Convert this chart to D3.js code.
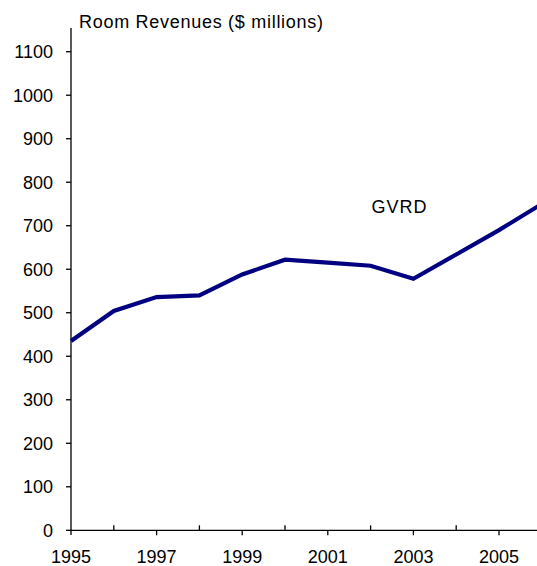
<!DOCTYPE html>
<html>
<head>
<meta charset="utf-8">
<script src="https://cdn.jsdelivr.net/npm/d3@7"></script>
<style>
html,body{margin:0;padding:0;background:#fff;}
svg{display:block;}
text{font-family:"Liberation Sans",Arial,sans-serif;fill:#000;}
</style>
</head>
<body>
<script>
const years = [1995,1996,1997,1998,1999,2000,2001,2002,2003,2004,2005,2006];
const revenues = [435,504,536,540,588,622,615,608,578,634,690,750];
const yTicks = [0,100,200,300,400,500,600,700,800,900,1000,1100];
const xLabelYears = [1995,1997,1999,2001,2003,2005];
const seriesName = "GVRD";
const yTitle = "Room Revenues ($ millions)";

const W = 537, H = 566;
const svg = d3.select("body").append("svg").attr("width", W).attr("height", H);

const x = d3.scaleLinear().domain([1995, 2006]).range([71, 541.8]);
const y = d3.scaleLinear().domain([0, 1100]).range([530.3, 51.7]);

const fs = 18;

// y axis
const ya = svg.append("g").attr("transform", "translate(71,0)");
ya.append("line").attr("x1",0).attr("x2",0).attr("y1",28).attr("y2",535).attr("stroke","#000").attr("stroke-width",1.3);
ya.selectAll("line.t").data(yTicks).enter().append("line").attr("class","t")
  .attr("x1",-5).attr("x2",0).attr("y1",d=>y(d)).attr("y2",d=>y(d)).attr("stroke","#000").attr("stroke-width",1.3);
ya.selectAll("text").data(yTicks).enter().append("text")
  .attr("x",-18).attr("y",d=>y(d)).attr("dy","0.35em").attr("text-anchor","end")
  .style("font-size",fs+"px").text(d=>d);

// x axis
const xa = svg.append("g");
xa.append("line").attr("x1",71).attr("x2",W).attr("y1",y(0)).attr("y2",y(0)).attr("stroke","#000").attr("stroke-width",1.3);
xa.selectAll("line.t").data(years.slice(1,11)).enter().append("line").attr("class","t")
  .attr("x1",d=>x(d)).attr("x2",d=>x(d))
  .attr("y1",d=> (d%2===1) ? y(0) : y(0)-5)
  .attr("y2",d=> (d%2===1) ? y(0)+5 : y(0))
  .attr("stroke","#000").attr("stroke-width",1.3);
xa.selectAll("text").data(xLabelYears).enter().append("text")
  .attr("x",d=>x(d)).attr("y",563).attr("text-anchor","middle")
  .style("font-size",fs+"px").text(d=>d);

// line
const line = d3.line().x((d,i)=>x(years[i])).y(d=>y(d));
svg.append("path").datum(revenues).attr("d", line)
  .attr("fill","none").attr("stroke","#000080").attr("stroke-width",4.2).attr("stroke-linejoin","miter");

// labels
svg.append("text").attr("x",79).attr("y",27.5).style("font-size",fs+"px")
  .attr("textLength",244).attr("lengthAdjust","spacing").text(yTitle);
svg.append("text").attr("x",371.5).attr("y",213.3).style("font-size",fs+"px")
  .attr("textLength",55).attr("lengthAdjust","spacing").text(seriesName);
</script>
</body>
</html>
